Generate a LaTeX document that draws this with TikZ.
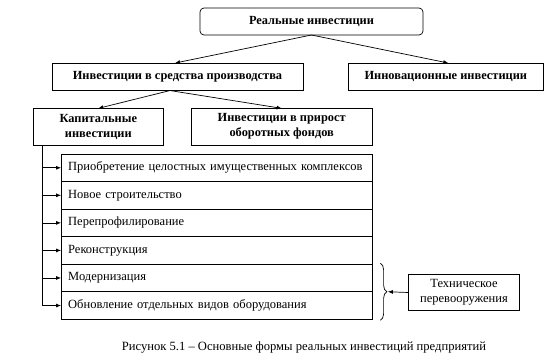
\documentclass[tikz,border=0pt]{standalone}
\usepackage{fontspec}
\setmainfont{Liberation Serif}
\usetikzlibrary{arrows.meta,decorations.pathreplacing,calc}
\begin{document}
\begin{tikzpicture}[x=1pt,y=-1pt,
  every node/.style={inner sep=0pt,outer sep=0pt},
  box/.style={draw,line width=0.7pt,align=center,font=\fontsize{12.4}{15}\selectfont\bfseries},
  rowbox/.style={draw,line width=0.7pt,minimum width=311.3pt,minimum height=27.55pt,anchor=north,text width=297pt,align=left,font=\fontsize{12.5}{15}\selectfont},
  arr/.style={line width=0.7pt,-{Latex[length=5pt,width=4pt]}},
  ln/.style={line width=0.7pt}]
\useasboundingbox (0,0) rectangle (557,358);
\node[box,rounded corners=4pt,minimum width=223pt,minimum height=27pt] (top) at (311.5,21.5) {Реальные инвестиции};
\node[box,minimum width=251pt,minimum height=27.5pt] (prod) at (177.5,76.8) {Инвестиции в средства производства};
\node[box,minimum width=195pt,minimum height=27.5pt] (innov) at (445.8,76.8) {Инновационные инвестиции};
\node[box,minimum width=130pt,minimum height=36.7pt] (cap) at (98.3,126.7) {Капитальные\\инвестиции};
\node[box,minimum width=181.3pt,minimum height=36.7pt] (obor) at (281.7,126.7) {Инвестиции в прирост\\оборотных фондов};
\node[rowbox] (r1) at (216.7,154) {Приобретение целостных имущественных комплексов};
\node[rowbox] (r2) at (r1.south) {Новое строительство};
\node[rowbox] (r3) at (r2.south) {Перепрофилирование};
\node[rowbox] (r4) at (r3.south) {Реконструкция};
\node[rowbox] (r5) at (r4.south) {Модернизация};
\node[rowbox] (r6) at (r5.south) {Обновление отдельных видов оборудования};
\node[draw,line width=0.7pt,align=center,minimum width=111.4pt,minimum height=36.4pt,font=\fontsize{12.5}{15}\selectfont] (tech) at (464,292.5) {Техническое\\перевооружения};
\node[font=\fontsize{12.6}{14}\selectfont] (cap1) at (304,347) {Рисунок 5.1 – Основные формы реальных инвестиций предприятий};
\draw[arr] (top.south) -- ([xshift=-2.5pt]prod.north);
\draw[arr] (top.south) -- ([xshift=2.5pt]innov.north);
\draw[arr] ([xshift=-7.5pt]prod.south) -- (cap.north);
\draw[arr] ([xshift=-7.5pt]prod.south) -- (obor.north);
\coordinate (spine) at ([xshift=9.3pt]cap.south west);
\draw[arr] (spine) |- (r6.west);
\foreach \r in {r1,r2,r3,r4,r5}{\draw[arr] (spine |- \r.west) -- (\r.west);}
\coordinate (b1) at ([xshift=8pt,yshift=1pt]r5.north east);
\coordinate (b2) at ([xshift=8pt,yshift=-1pt]r6.south east);
\draw[ln,decorate,decoration={brace,amplitude=6.5pt}] (b1) -- (b2);
\coordinate (btip) at ([xshift=15.5pt]r5.south east);
\draw[arr] (tech.west) -- (btip);
\end{tikzpicture}
\end{document}
